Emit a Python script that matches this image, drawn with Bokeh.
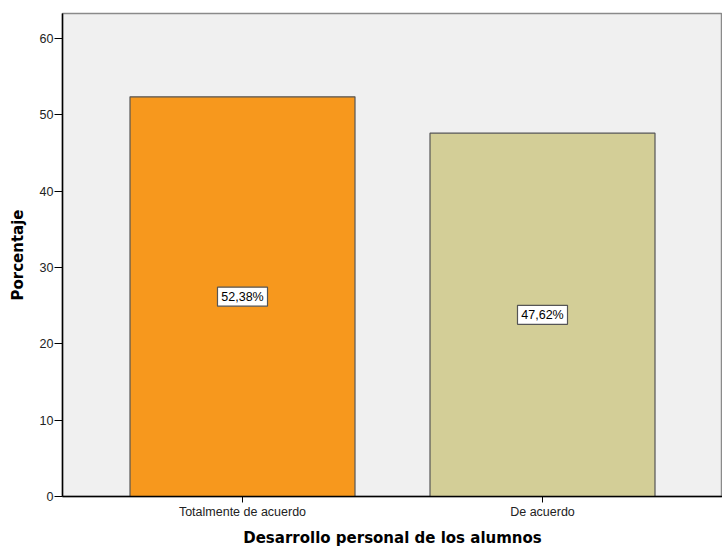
from bokeh.plotting import figure
from bokeh.models import FactorRange, Range1d, ColumnDataSource, FixedTicker
from bokeh.core.properties import value
from bokeh.embed import file_html
from bokeh.resources import INLINE

categories = ["Totalmente de acuerdo", "De acuerdo"]
percentages = [52.38, 47.62]
bar_colors = ["#F7981D", "#D3CE97"]
value_labels = ["52,38%", "47,62%"]
y_ticks = [0, 10, 20, 30, 40, 50, 60]

src = ColumnDataSource(dict(
    cat=categories,
    val=percentages,
    color=bar_colors,
    mid=[v / 2 for v in percentages],
    lab=value_labels,
))

p = figure(
    x_range=FactorRange(factors=categories, range_padding=0.1, range_padding_units="absolute"),
    y_range=Range1d(0, 63.3),
    width=722, height=549,
    output_backend="svg", toolbar_location=None,
    min_border_left=62, min_border_right=0, min_border_top=13, min_border_bottom=53,
    background_fill_color="#F0F0F0", border_fill_color="white",
)
p.outline_line_color = "#8a8a8a"
p.outline_line_width = 1.5
p.grid.visible = False

p.vbar(x="cat", top="val", width=0.75, source=src, fill_color="color",
       line_color="#555555", line_width=1.2)

p.rect(x="cat", y="mid", width=50, height=19, width_units="screen", height_units="screen",
       source=src, fill_color="white", line_color="#555555", line_width=1.2)
p.text(x="cat", y="mid", text="lab", source=src, text_align="center", text_baseline="middle",
       text_font=value("Liberation Sans"), text_font_size="12.5px", text_color="black")

# Y axis
p.yaxis.ticker = FixedTicker(ticks=y_ticks)
p.yaxis.axis_label = "Porcentaje"
p.yaxis.axis_label_text_font = "DejaVu Sans"
p.yaxis.axis_label_text_font_style = "bold"
p.yaxis.axis_label_text_font_size = "15px"
p.yaxis.axis_label_text_color = "black"
p.yaxis.axis_label_standoff = 10
p.yaxis.major_label_text_font = "Liberation Sans"
p.yaxis.major_label_text_font_size = "12.5px"
p.yaxis.major_label_text_color = "#222222"
p.yaxis.major_label_standoff = 1
p.yaxis.major_tick_out = 8
p.yaxis.major_tick_in = 0
p.yaxis.minor_tick_out = 0
p.yaxis.minor_tick_in = 0
p.yaxis.axis_line_color = "black"
p.yaxis.axis_line_width = 1.5
p.yaxis.major_tick_line_color = "black"

# X axis
p.xaxis.axis_label = "Desarrollo personal de los alumnos"
p.xaxis.axis_label_text_font = "DejaVu Sans"
p.xaxis.axis_label_text_font_style = "bold"
p.xaxis.axis_label_text_font_size = "15px"
p.xaxis.axis_label_text_color = "black"
p.xaxis.axis_label_standoff = 7
p.xaxis.major_label_text_font = "Liberation Sans"
p.xaxis.major_label_text_font_size = "12.5px"
p.xaxis.major_label_text_color = "#222222"
p.xaxis.major_label_standoff = 2
p.xaxis.major_tick_out = 6
p.xaxis.major_tick_in = 0
p.xaxis.axis_line_color = "black"
p.xaxis.axis_line_width = 1.5
p.xaxis.major_tick_line_color = "black"

open("out.html", "w").write(file_html(p, INLINE))
